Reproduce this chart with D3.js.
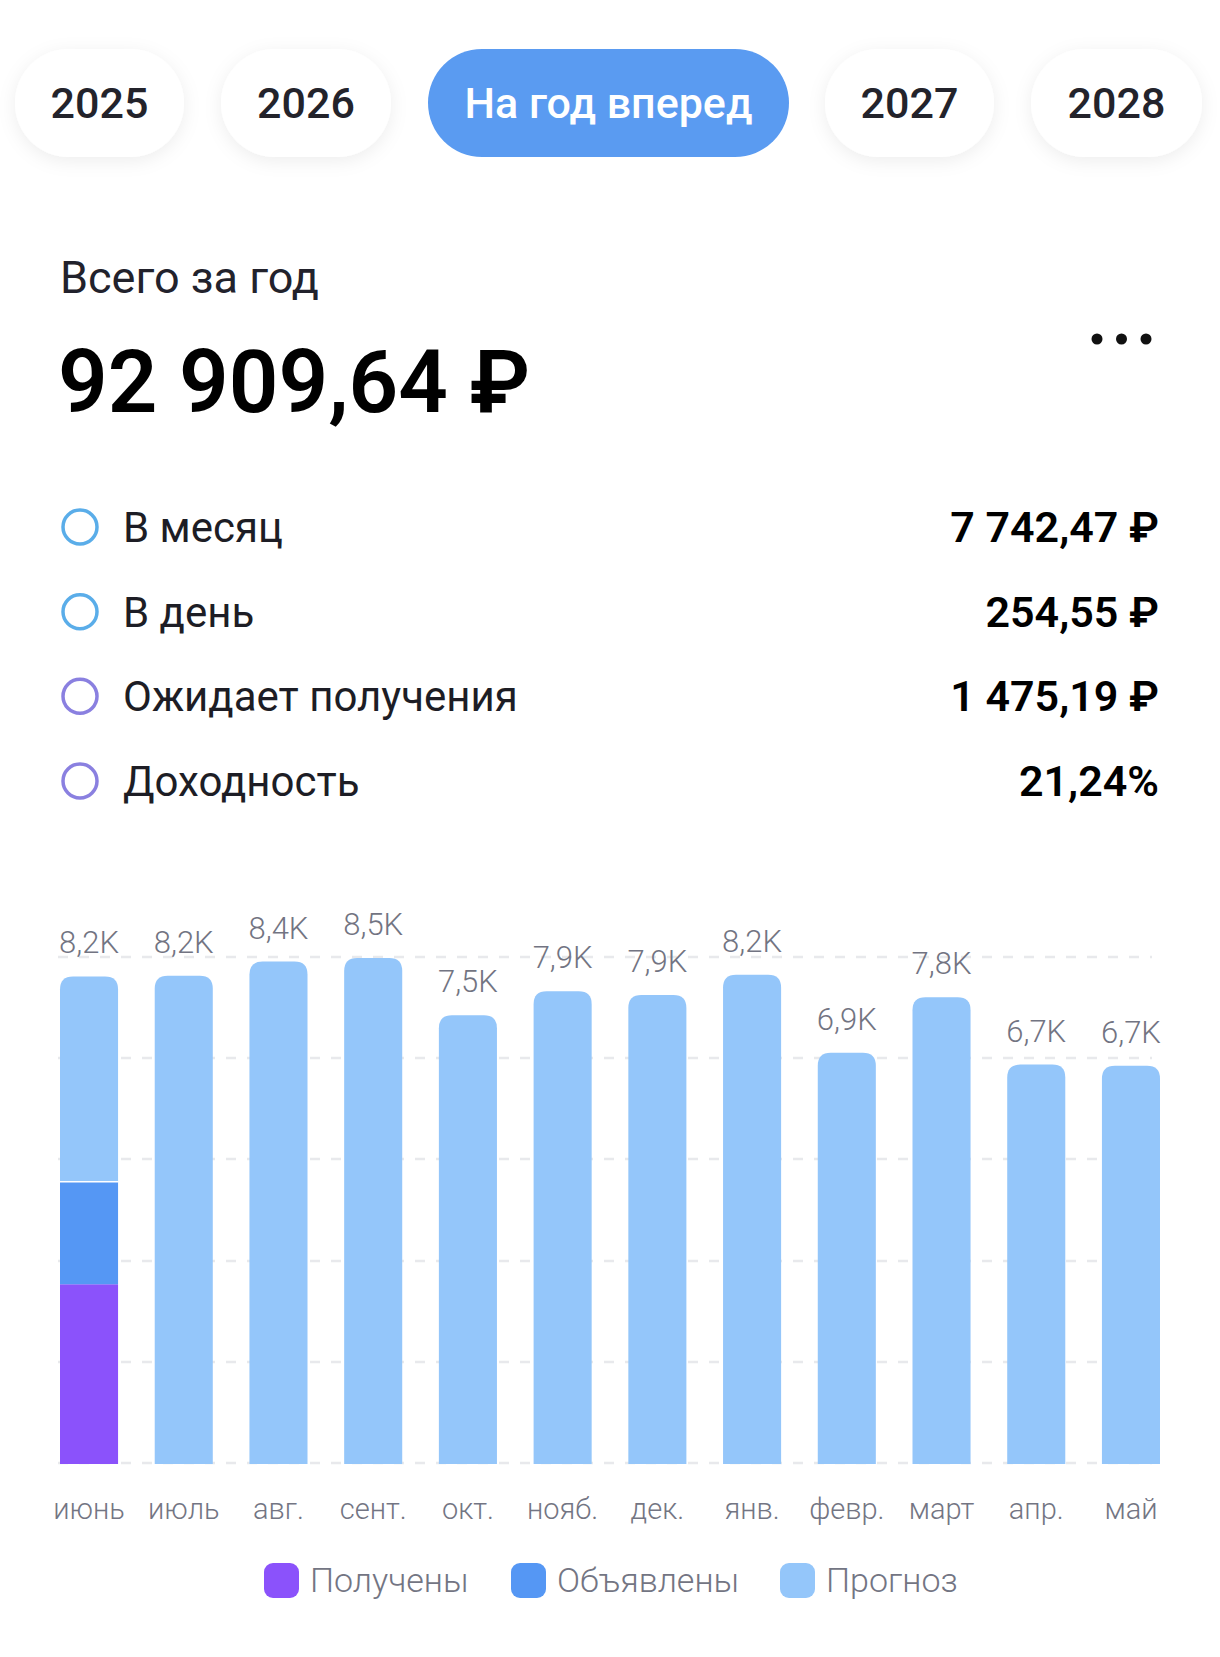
<!DOCTYPE html>
<html>
<head>
<meta charset="utf-8">
<script src="https://cdn.jsdelivr.net/npm/d3@7"></script>
<style>
  body { margin: 0; background: #fff; }
  svg { display: block; font-family: Roboto, "Noto Sans", sans-serif; }
</style>
</head>
<body>
<svg id="chart" width="1220" height="1657"></svg>
<script>
// data
var tabs = ['2025', '2026', 'На год вперед', '2027', '2028'];
var activeTab = 'На год вперед';

var totalLabel = 'Всего за год';
var totalValue = '92 909,64 ₽';

var statNames = ['В месяц', 'В день', 'Ожидает получения', 'Доходность'];
var statValues = ['7 742,47 ₽', '254,55 ₽', '1 475,19 ₽', '21,24%'];
var statColors = ['#5aade9', '#5aade9', '#8a80e0', '#8a80e0'];

var months = ['июнь', 'июль', 'авг.', 'сент.', 'окт.', 'нояб.', 'дек.', 'янв.', 'февр.', 'март', 'апр.', 'май'];
// thousands of rubles per month
var received = [3.02, 0, 0, 0, 0, 0, 0, 0, 0, 0, 0, 0];
var declared = [1.72, 0, 0, 0, 0, 0, 0, 0, 0, 0, 0, 0];
var forecast = [3.45, 8.2, 8.44, 8.5, 7.54, 7.94, 7.88, 8.22, 6.91, 7.84, 6.71, 6.69];
var valueLabels = ['8,2K', '8,2K', '8,4K', '8,5K', '7,5K', '7,9K', '7,9K', '8,2K', '6,9K', '7,8K', '6,7K', '6,7K'];

var seriesNames = ['Получены', 'Объявлены', 'Прогноз'];
var seriesColors = ['#8b52fb', '#5597f4', '#94c6fa'];

var svg = d3.select('#chart');

//=======================
// tabs
//=======================
var defs = svg.append('defs');
var shadow = defs.append('filter').attr('id', 'soft').attr('x', '-30%').attr('y', '-30%').attr('width', '160%').attr('height', '160%');
shadow.append('feDropShadow').attr('dx', 0).attr('dy', 4).attr('stdDeviation', 9)
  .attr('flood-color', '#000').attr('flood-opacity', 0.07);

var tabX = [15, 221, 428, 825, 1031];
var tabW = [169, 170, 361, 169, 171];

var tabG = svg.selectAll('.tab').data(tabs).enter().append('g')
  .attr('class', 'tab')
  .attr('transform', function (d, i) { return 'translate(' + tabX[i] + ',49)'; });

tabG.append('rect')
  .attr('width', function (d, i) { return tabW[i]; })
  .attr('height', 108)
  .attr('rx', 54)
  .attr('fill', function (d) { return d == activeTab ? '#5a9bf1' : '#fff'; })
  .attr('filter', function (d) { return d == activeTab ? null : 'url(#soft)'; });

tabG.append('text')
  .attr('x', function (d, i) { return tabW[i] / 2; })
  .attr('y', 54)
  .attr('dy', '0.35em')
  .attr('text-anchor', 'middle')
  .style('font-size', '43px')
  .style('font-weight', 500)
  .attr('fill', function (d) { return d == activeTab ? '#fff' : '#23232b'; })
  .text(function (d) { return d; });

//=======================
// totals
//=======================
svg.append('text')
  .attr('x', 60).attr('y', 293)
  .style('font-size', '45px')
  .attr('fill', '#22222c')
  .text(totalLabel);

svg.append('text')
  .attr('x', 58).attr('y', 412)
  .style('font-size', '87px')
  .style('font-weight', 600)
  .attr('fill', '#000')
  .text(totalValue);

svg.selectAll('.dot').data([0, 1, 2]).enter().append('circle')
  .attr('class', 'dot')
  .attr('cx', function (d) { return 1097 + d * 24.5; })
  .attr('cy', 339)
  .attr('r', 5.5)
  .attr('fill', '#111');

var rowY = d3.scalePoint().domain(statNames).range([527, 781]);

var rows = svg.selectAll('.stat').data(statNames).enter().append('g')
  .attr('class', 'stat')
  .attr('transform', function (d) { return 'translate(0,' + rowY(d) + ')'; });

rows.append('circle')
  .attr('cx', 80).attr('cy', 0).attr('r', 17)
  .attr('fill', 'none')
  .attr('stroke-width', 3.5)
  .attr('stroke', function (d, i) { return statColors[i]; });

rows.append('text')
  .attr('x', 123).attr('y', 15)
  .style('font-size', '42px')
  .attr('fill', '#1d1d25')
  .text(function (d) { return d; });

rows.append('text')
  .attr('x', 1159).attr('y', 15)
  .attr('text-anchor', 'end')
  .style('font-size', '43px')
  .style('font-weight', 600)
  .attr('fill', '#000')
  .text(function (d, i) { return statValues[i]; });

//=======================
// bar chart
//=======================
var data = months.map(function (m, i) {
  return { month: m, received: received[i], declared: declared[i], forecast: forecast[i], label: valueLabels[i] };
});
data.forEach(function (d) { d.total = d.received + d.declared + d.forecast; });

var x = d3.scaleBand().domain(months).range([60, 1160]).paddingInner(0.387).paddingOuter(0);
var yMax = d3.max(data, function (d) { return d.total; });
var y = d3.scaleLinear().domain([0, yMax]).range([1464, 958]);

var grid = svg.append('g');
grid.selectAll('line').data(d3.range(6).map(function (i) { return yMax * i / 5; })).enter().append('line')
  .attr('x1', 58).attr('x2', 1152)
  .attr('y1', function (d) { return Math.round(y(d)) - 1; })
  .attr('y2', function (d) { return Math.round(y(d)) - 1; })
  .attr('stroke', '#e8e9ec')
  .attr('stroke-width', 2.5)
  .attr('stroke-dasharray', '10 11');

var stack = d3.stack().keys(['received', 'declared', 'forecast'])(data);

function topRounded (x0, y0, w, h, r) {
  r = Math.min(r, h);
  return 'M' + x0 + ',' + (y0 + h) +
    'V' + (y0 + r) +
    'Q' + x0 + ',' + y0 + ' ' + (x0 + r) + ',' + y0 +
    'H' + (x0 + w - r) +
    'Q' + (x0 + w) + ',' + y0 + ' ' + (x0 + w) + ',' + (y0 + r) +
    'V' + (y0 + h) + 'Z';
}

var layers = svg.selectAll('.layer').data(stack).enter().append('g')
  .attr('class', 'layer')
  .attr('fill', function (d, i) { return seriesColors[i]; });

layers.selectAll('path').data(function (d) { return d.filter(function (s) { return s[1] > s[0]; }); })
  .enter().append('path')
  .attr('d', function (s) {
    var top = y(s[1]), bottom = y(s[0]);
    var isTop = s[1] >= s.data.total - 1e-9;
    var r = isTop ? 13 : 0;
    return topRounded(x(s.data.month), top, x.bandwidth(), bottom - top, r);
  });

// thin white gap between declared and forecast
svg.selectAll('.gap').data(data.filter(function (d) { return d.declared > 0 && d.forecast > 0; }))
  .enter().append('line')
  .attr('x1', function (d) { return x(d.month); })
  .attr('x2', function (d) { return x(d.month) + x.bandwidth(); })
  .attr('y1', function (d) { return y(d.received + d.declared); })
  .attr('y2', function (d) { return y(d.received + d.declared); })
  .attr('stroke', '#fff')
  .attr('stroke-width', 1.5);

svg.selectAll('.vlabel').data(data).enter().append('text')
  .attr('class', 'vlabel')
  .attr('x', function (d) { return x(d.month) + x.bandwidth() / 2; })
  .attr('y', function (d) { return y(d.total) - 23; })
  .attr('text-anchor', 'middle')
  .style('font-size', '31px')
  .style('font-weight', 300)
  .attr('fill', '#727482')
  .text(function (d) { return d.label; });

var xAxis = svg.append('g')
  .attr('transform', 'translate(0,1464)')
  .call(d3.axisBottom(x).tickSize(0).tickPadding(34));
xAxis.select('.domain').remove();
xAxis.selectAll('text')
  .style('font-family', 'Roboto, "Noto Sans", sans-serif')
  .style('font-size', '29px')
  .style('font-weight', 300)
  .attr('fill', '#737583');

//=======================
// legend
//=======================
var legX = [264, 511, 780];
var leg = svg.selectAll('.leg').data(seriesNames).enter().append('g')
  .attr('class', 'leg')
  .attr('transform', function (d, i) { return 'translate(' + legX[i] + ',1563)'; });

leg.append('rect')
  .attr('width', 35).attr('height', 35).attr('rx', 9)
  .attr('fill', function (d, i) { return seriesColors[i]; });

leg.append('text')
  .attr('x', 46).attr('y', 17.5)
  .attr('dy', '0.35em')
  .style('font-size', '34px')
  .style('font-weight', 300)
  .attr('fill', '#737583')
  .text(function (d) { return d; });
</script>
</body>
</html>
